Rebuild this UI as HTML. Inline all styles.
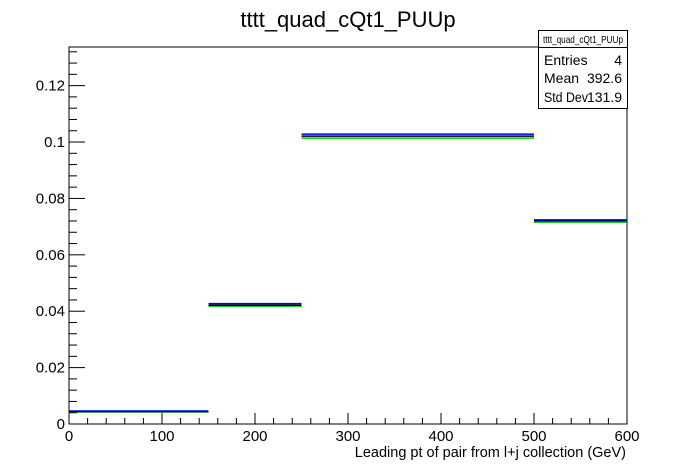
<!DOCTYPE html>
<html><head><meta charset="utf-8"><style>
body{margin:0;background:#fff;}
svg{display:block;font-family:"Liberation Sans",Arial,sans-serif;}
</style></head><body>
<svg id="c" width="696" height="472">
<rect x="0" y="0" width="696" height="472" fill="#fff"/>
<text x="348" y="27" font-size="22" text-anchor="middle">tttt_quad_cQt1_PUUp</text>
<rect x="69" y="47" width="558" height="377" fill="none" stroke="#000" stroke-width="1"/>
<g id="axes"></g>
<g id="bars"></g>
<text x="626" y="457" font-size="14.5" text-anchor="end">Leading pt of pair from l+j collection (GeV)</text>
<g>
<rect x="538.5" y="30.5" width="89" height="78" fill="#fff" stroke="#000"/>
<line x1="538.5" y1="47.5" x2="627.5" y2="47.5" stroke="#000"/>
<text x="583" y="43" font-size="10.5" text-anchor="middle" textLength="80" lengthAdjust="spacingAndGlyphs">tttt_quad_cQt1_PUUp</text>
<text x="544" y="65" font-size="14">Entries</text><text x="622" y="65" font-size="14" text-anchor="end">4</text>
<text x="544" y="83" font-size="14">Mean</text><text x="622" y="83" font-size="14" text-anchor="end">392.6</text>
<text x="544" y="102" font-size="14" textLength="44" lengthAdjust="spacingAndGlyphs">Std Dev</text><text x="622" y="102" font-size="14" text-anchor="end">131.9</text>
</g>
</svg>
<script>
const binEdges=[0,150,250,500,600];
const blueVals=[0.0046,0.0427,0.1028,0.0724];
const blackVals=[0.0044,0.0421,0.1021,0.0721];
const greenVals=[0.0043,0.0418,0.1014,0.0716];
const xTicks=[0,100,200,300,400,500,600];
const yTicks=[0,0.02,0.04,0.06,0.08,0.1,0.12];
const X0=69,X1=627,Y0=424,Y1=47,XMAX=600,YMAX=0.1337;
const sx=v=>X0+v/XMAX*(X1-X0);
const sy=v=>Y0-v/YMAX*(Y0-Y1);
const NS='http://www.w3.org/2000/svg';
const ax=document.getElementById('axes'),bars=document.getElementById('bars');
function mk(tag,attrs,parent){const e=document.createElementNS(NS,tag);for(const k in attrs)e.setAttribute(k,attrs[k]);parent.appendChild(e);return e;}
for(let v=0;v<=XMAX+1e-9;v+=20){const major=Math.abs(v%100)<1e-6;const x=sx(v);
 const t=mk('line',{x1:x,y1:Y0,x2:x,y2:Y0-(major?11:6),stroke:'#000'},ax);
 
 }
xTicks.forEach(v=>{const t=mk('text',{x:sx(v),y:Y0+17,'font-size':15,'text-anchor':'middle'},ax);t.textContent=v;
 
 });
for(let i=0;sy(i*0.004)>=Y1-0.5;i++){const v=i*0.004;const major=i%5===0;const y=sy(v);
 const t=mk('line',{x1:X0,y1:y,x2:X0+(major?16:8),y2:y,stroke:'#000'},ax);
 
 }
yTicks.forEach(v=>{const t=mk('text',{x:X0-4,y:sy(v)+5,'font-size':15,'text-anchor':'end'},ax);t.textContent=String(+v.toFixed(2));
 
 });
function series(vals,color,name){vals.forEach((v,i)=>{const l=mk('line',{x1:sx(binEdges[i]),x2:sx(binEdges[i+1]),y1:sy(v),y2:sy(v),stroke:color,'stroke-width':1.5},bars);
 
 });}
series(greenVals,'#00cc00','green');
series(blackVals,'#000','black');
series(blueVals,'#0000ee','blue');
</script>
</body></html>
